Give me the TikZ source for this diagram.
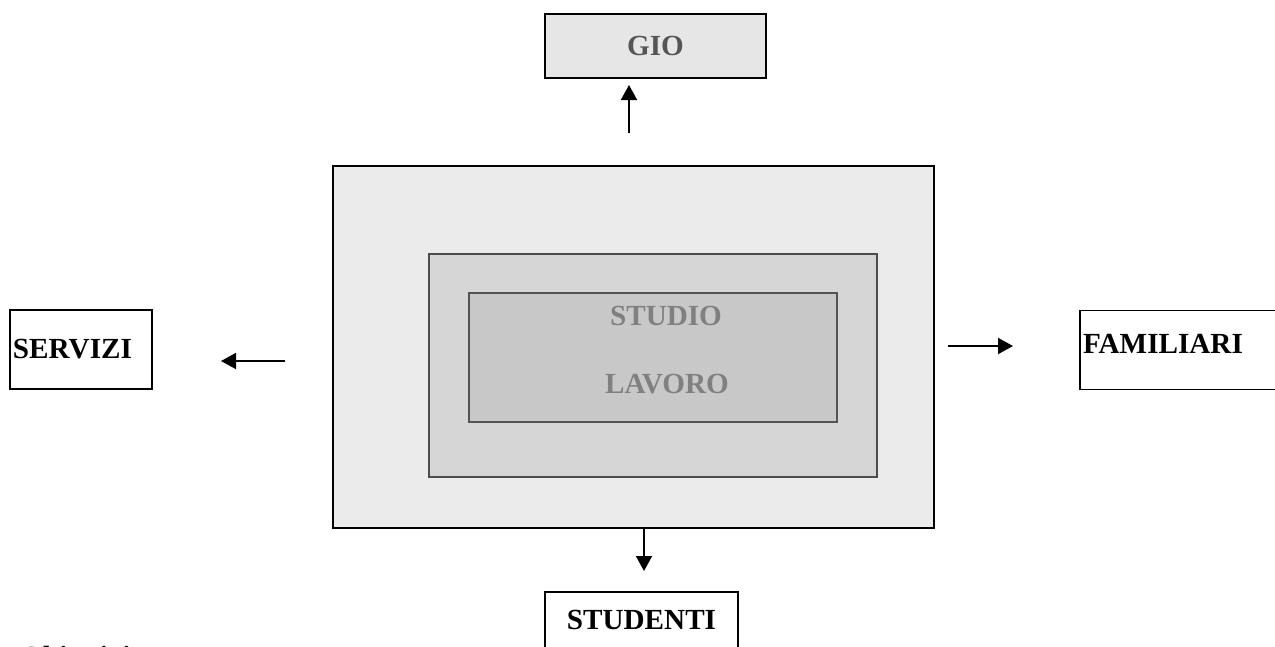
\documentclass[tikz,border=0pt]{standalone}
\usepackage{fontspec}
\setmainfont{Liberation Serif}
\usetikzlibrary{arrows.meta}

\definecolor{giofill}{HTML}{E6E6E6}
\definecolor{outerfill}{HTML}{EBEBEB}
\definecolor{midfill}{HTML}{D6D6D6}
\definecolor{innerfill}{HTML}{C8C8C8}
\definecolor{greytext}{HTML}{808080}
\definecolor{giotext}{HTML}{555555}

\begin{document}
\begin{tikzpicture}[font=\fontsize{16.6}{20}\selectfont\bfseries]
\useasboundingbox (0,0) rectangle (25.5,-12.92);
% nested boxes in the middle
\begin{scope}[every node/.style={draw,line width=1.1pt,inner sep=0pt}]
    \node[fill=outerfill,minimum width=12.02cm,minimum height=7.24cm] (outer) at (12.67,-6.94) {};
    \node[fill=midfill,draw=black!70,minimum width=8.96cm,minimum height=4.46cm] (middle) at (13.06,-7.31) {};
    \node[fill=innerfill,draw=black!67,minimum width=7.36cm,minimum height=2.58cm] (inner) at (13.06,-7.15) {};
\end{scope}
\node[text=greytext] (studio) at (13.32,-6.32) {STUDIO};
\node[text=greytext] (lavoro) at (13.34,-7.68) {LAVORO};
% boxes round the outside
\begin{scope}[every node/.style={draw,line width=1.1pt,inner ysep=0pt,inner xsep=0.06cm,align=left}]
    \node[fill=giofill,text=giotext,minimum width=4.42cm,minimum height=1.28cm,align=center] (gio) at (13.11,-0.92) {GIO};
    \node[text width=2.72cm,minimum height=1.58cm] (servizi) at (1.62,-6.99) {SERVIZI};
    \node[text width=4.28cm,text depth=0.24cm,minimum height=1.58cm] (familiari) at (23.8,-7.0) {FAMILIARI};
    \node[minimum width=3.86cm,minimum height=1.12cm,align=center] (studenti) at (12.83,-12.4) {STUDENTI};
\end{scope}
\node[anchor=base west,inner sep=0pt] (obiettivi) at (0.4,-13.32) {Obiettivi};
% arrow ends
\coordinate (gio-a) at (12.58,-2.66);
\coordinate (gio-b) at (12.58,-1.70);
\coordinate (serv-a) at (5.70,-7.22);
\coordinate (serv-b) at (4.42,-7.22);
\coordinate (fam-a) at (18.96,-6.92);
\coordinate (fam-b) at (20.26,-6.92);
\coordinate (stud-a) at (12.88,-10.56);
\coordinate (stud-b) at (12.88,-11.42);
\begin{scope}[every edge/.style={draw=black,line width=1.1pt,-{Triangle[length=0.3cm,width=0.32cm]}}]
    \path (gio-a) edge (gio-b);
    \path (serv-a) edge (serv-b);
    \path (fam-a) edge (fam-b);
    \path (stud-a) edge (stud-b);
\end{scope}
\end{tikzpicture}
\end{document}
